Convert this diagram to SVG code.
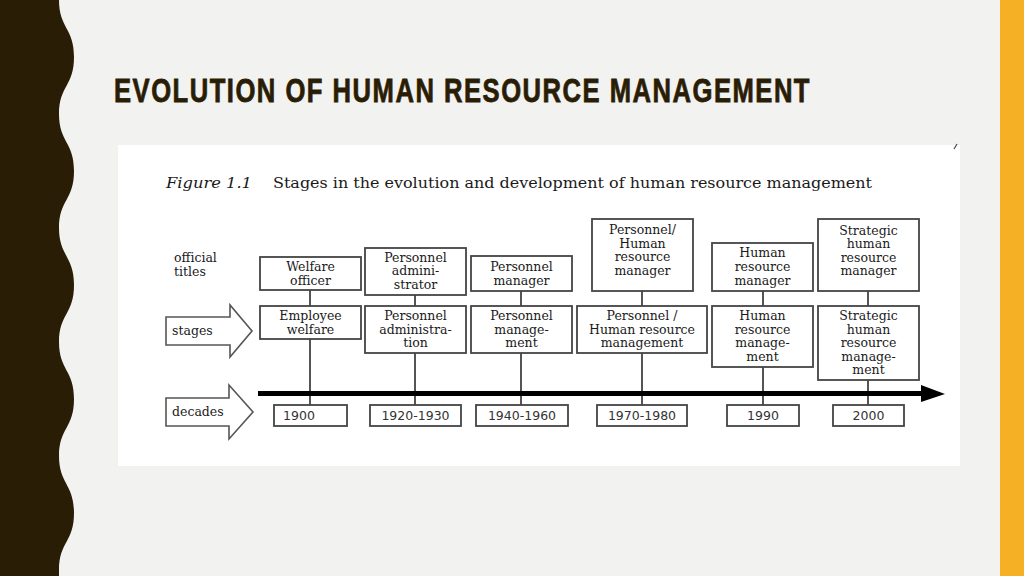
<svg xmlns="http://www.w3.org/2000/svg" width="1024" height="576" viewBox="0 0 1024 576">
<style>
.bx{fill:#ffffff;stroke:#444;stroke-width:1.8}
.t{font-family:"DejaVu Serif","Liberation Serif",serif;font-size:12.5px;fill:#1a1a1a;text-anchor:middle}
.lbl{font-family:"DejaVu Serif","Liberation Serif",serif;font-size:12.5px;fill:#1a1a1a}
.d{font-family:"DejaVu Sans","Liberation Sans",sans-serif;font-size:12.5px;fill:#333;text-anchor:middle}
.cn{stroke:#555;stroke-width:2;fill:none}
.ar{fill:#ffffff;stroke:#555;stroke-width:1.6}
</style>
<rect x="0" y="0" width="1024" height="576" fill="#f2f2f0"/>
<rect x="1000" y="0" width="24" height="576" fill="#f6b026"/>
<path d="M0,0 L59,0 C59,28 74,28 74,57 C74,86 59,86 59,114 C59,142 74,142 74,171 C74,200 59,200 59,228 C59,256 74,256 74,285 C74,314 59,314 59,342 C59,370 74,370 74,399 C74,428 59,428 59,456 C59,484 74,484 74,513 C74,542 59,542 59,570 L59,576 L0,576 Z" fill="#2a1d06"/>
<text x="114" y="102" font-family="'Liberation Sans','DejaVu Sans',sans-serif" font-weight="bold" font-size="34" fill="#2a1d06" stroke="#2a1d06" stroke-width="0.8" letter-spacing="2" textLength="697" lengthAdjust="spacingAndGlyphs">EVOLUTION OF HUMAN RESOURCE MANAGEMENT</text>
<rect x="118" y="145" width="842" height="321" fill="#ffffff"/>
<line x1="954" y1="149" x2="957" y2="144" stroke="#444" stroke-width="1.2"/>
<text x="166" y="188" font-family="'DejaVu Serif','Liberation Serif',serif" font-style="italic" font-size="14.5" fill="#1a1a1a" textLength="86" lengthAdjust="spacingAndGlyphs">Figure 1.1</text>
<text x="273" y="188" font-family="'DejaVu Serif','Liberation Serif',serif" font-size="14.5" fill="#1a1a1a" textLength="599" lengthAdjust="spacingAndGlyphs">Stages in the evolution and development of human resource management</text>

<g id="label-official">
<text class="lbl" x="174" y="262">official</text>
<text class="lbl" x="174" y="276">titles</text>
</g>
<g id="label-stages">
<polygon class="ar" points="166,317 230,317 230,305 252,331 230,357 230,345 166,345"/>
<text class="lbl" x="172" y="335">stages</text>
</g>
<g id="label-decades">
<polygon class="ar" points="166,398 229,398 229,385 253,412 229,439 229,426 166,426"/>
<text class="lbl" x="172" y="416">decades</text>
</g>

<g id="connectors">
<line class="cn" x1="310" y1="290" x2="310" y2="306"/>
<line class="cn" x1="310" y1="339" x2="310" y2="405"/>
<line class="cn" x1="415" y1="295" x2="415" y2="306"/>
<line class="cn" x1="415" y1="353" x2="415" y2="405"/>
<line class="cn" x1="521" y1="291" x2="521" y2="306"/>
<line class="cn" x1="521" y1="353" x2="521" y2="405"/>
<line class="cn" x1="642" y1="291" x2="642" y2="306"/>
<line class="cn" x1="642" y1="353" x2="642" y2="405"/>
<line class="cn" x1="763" y1="291" x2="763" y2="306"/>
<line class="cn" x1="763" y1="367" x2="763" y2="405"/>
<line class="cn" x1="868" y1="291" x2="868" y2="306"/>
<line class="cn" x1="868" y1="380" x2="868" y2="405"/>
<line x1="258" y1="393.5" x2="924" y2="393.5" stroke="#000" stroke-width="5"/>
<polygon points="921,385 945,394 921,402" fill="#000"/>
</g>

<g id="title-welfare-officer">
<rect class="bx" x="260" y="257" width="101" height="33"/>
<text class="t" x="310.5" y="271">Welfare</text>
<text class="t" x="310.5" y="285">officer</text>
</g>
<g id="title-personnel-administrator">
<rect class="bx" x="365" y="248" width="101" height="47"/>
<text class="t" x="415.5" y="261.5">Personnel</text>
<text class="t" x="415.5" y="275">admini-</text>
<text class="t" x="415.5" y="289">strator</text>
</g>
<g id="title-personnel-manager">
<rect class="bx" x="471" y="256" width="101" height="35"/>
<text class="t" x="521.5" y="271">Personnel</text>
<text class="t" x="521.5" y="285">manager</text>
</g>
<g id="title-personnel-hr-manager">
<rect class="bx" x="592" y="219" width="101" height="72"/>
<text class="t" x="642.5" y="234">Personnel/</text>
<text class="t" x="642.5" y="247.5">Human</text>
<text class="t" x="642.5" y="261">resource</text>
<text class="t" x="642.5" y="275">manager</text>
</g>
<g id="title-hr-manager">
<rect class="bx" x="712" y="243" width="101" height="48"/>
<text class="t" x="762.5" y="257">Human</text>
<text class="t" x="762.5" y="271">resource</text>
<text class="t" x="762.5" y="284.5">manager</text>
</g>
<g id="title-strategic-hr-manager">
<rect class="bx" x="818" y="219" width="101" height="72"/>
<text class="t" x="868.5" y="234.5">Strategic</text>
<text class="t" x="868.5" y="248">human</text>
<text class="t" x="868.5" y="261.5">resource</text>
<text class="t" x="868.5" y="275">manager</text>
</g>

<g id="stage-employee-welfare">
<rect class="bx" x="260" y="306" width="101" height="33"/>
<text class="t" x="310.5" y="320">Employee</text>
<text class="t" x="310.5" y="333.5">welfare</text>
</g>
<g id="stage-personnel-administration">
<rect class="bx" x="365" y="306" width="101" height="47"/>
<text class="t" x="415.5" y="320">Personnel</text>
<text class="t" x="415.5" y="333.5">administra-</text>
<text class="t" x="415.5" y="347">tion</text>
</g>
<g id="stage-personnel-management">
<rect class="bx" x="471" y="306" width="101" height="47"/>
<text class="t" x="521.5" y="320">Personnel</text>
<text class="t" x="521.5" y="333.5">manage-</text>
<text class="t" x="521.5" y="347">ment</text>
</g>
<g id="stage-personnel-hr-management">
<rect class="bx" x="577" y="306" width="130" height="47"/>
<text class="t" x="642" y="320">Personnel /</text>
<text class="t" x="642" y="333.5">Human resource</text>
<text class="t" x="642" y="347">management</text>
</g>
<g id="stage-hr-management">
<rect class="bx" x="712" y="306" width="101" height="61"/>
<text class="t" x="762.5" y="320">Human</text>
<text class="t" x="762.5" y="333.5">resource</text>
<text class="t" x="762.5" y="347">manage-</text>
<text class="t" x="762.5" y="360.5">ment</text>
</g>
<g id="stage-strategic-hr-management">
<rect class="bx" x="818" y="306" width="101" height="74"/>
<text class="t" x="868.5" y="320">Strategic</text>
<text class="t" x="868.5" y="333.5">human</text>
<text class="t" x="868.5" y="347">resource</text>
<text class="t" x="868.5" y="360.5">manage-</text>
<text class="t" x="868.5" y="374">ment</text>
</g>

<g id="decade-1900">
<rect class="bx" x="274" y="405" width="73" height="21"/>
<text class="d" x="299" y="420">1900</text>
</g>
<g id="decade-1920-1930">
<rect class="bx" x="370" y="405" width="91" height="21"/>
<text class="d" x="415.5" y="420">1920-1930</text>
</g>
<g id="decade-1940-1960">
<rect class="bx" x="476" y="405" width="92" height="21"/>
<text class="d" x="522" y="420">1940-1960</text>
</g>
<g id="decade-1970-1980">
<rect class="bx" x="597" y="405" width="90" height="21"/>
<text class="d" x="642" y="420">1970-1980</text>
</g>
<g id="decade-1990">
<rect class="bx" x="727" y="405" width="72" height="21"/>
<text class="d" x="763" y="420">1990</text>
</g>
<g id="decade-2000">
<rect class="bx" x="833" y="405" width="71" height="21"/>
<text class="d" x="868.5" y="420">2000</text>
</g>
</svg>
